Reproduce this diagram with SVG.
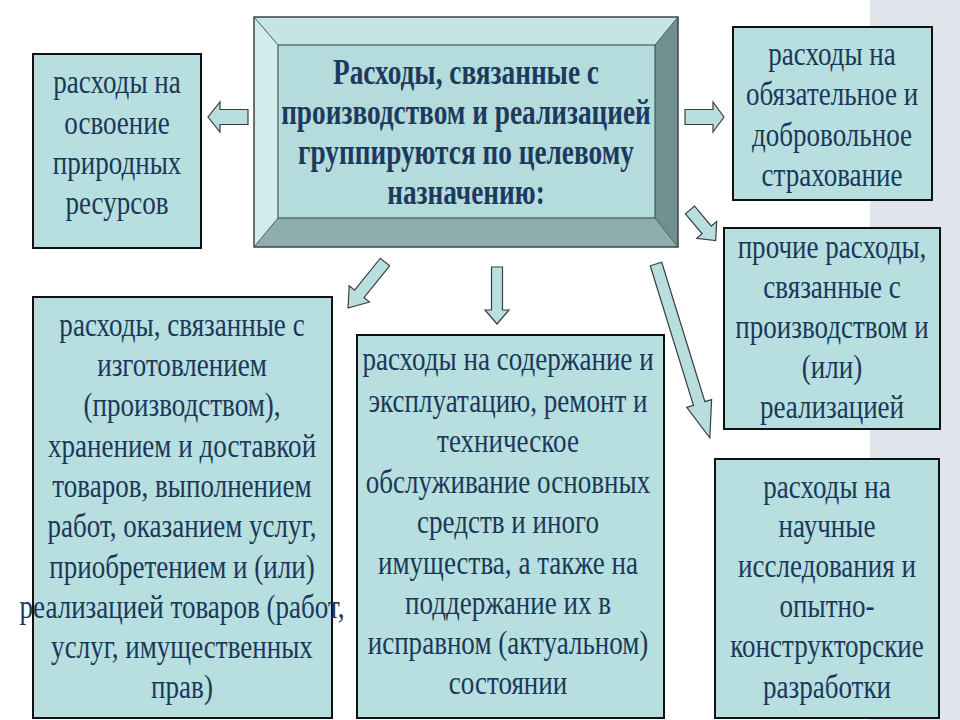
<svg xmlns="http://www.w3.org/2000/svg" width="960" height="720" viewBox="0 0 960 720">
<style>
.box{fill:#b7dfe0;stroke:#111;stroke-width:2}
.t{font-family:"Liberation Serif","Times New Roman",serif;font-size:33px;fill:#1c3858;text-anchor:middle}
.tb{font-family:"Liberation Serif","Times New Roman",serif;font-size:35px;font-weight:bold;fill:#1d3a5c;text-anchor:middle}
.arr{fill:#b9dede;stroke:#3a3f3f;stroke-width:1.2;stroke-linejoin:miter}
</style>
<rect x="0" y="0" width="960" height="720" fill="#ffffff"/>
<rect x="870" y="0" width="90" height="720" fill="#dfe5eb"/>

<g id="center">
<polygon points="254,17 678,17 655,45 278,45" fill="#c6e4e4"/>
<polygon points="254,17 278,45 278,218 254,247" fill="#d3ebeb"/>
<polygon points="678,17 678,247 655,218 655,45" fill="#6f8f90"/>
<polygon points="254,247 278,218 655,218 678,247" fill="#8fadad"/>
<rect x="278" y="45" width="377" height="173" fill="#b5dcdc" stroke="#4a5a5a" stroke-width="1.2"/>
<rect x="254" y="17" width="424" height="230" fill="none" stroke="#3a4646" stroke-width="1.5"/>
<g stroke="#4a5a5a" stroke-width="1"><line x1="254" y1="17" x2="278" y2="45"/><line x1="678" y1="17" x2="655" y2="45"/><line x1="254" y1="247" x2="278" y2="218"/><line x1="678" y1="247" x2="655" y2="218"/></g>
<g transform="translate(466,0) scale(0.78,1)">
<text class="tb" x="0" y="84">Расходы, связанные с</text>
<text class="tb" x="0" y="124">производством и реализацией</text>
<text class="tb" x="0" y="164">группируются по целевому</text>
<text class="tb" x="0" y="204">назначению:</text>
</g>
</g>

<g id="box1">
<rect class="box" x="33" y="54" width="168" height="194"/>
<g transform="translate(117,0) scale(0.82,1)">
<text class="t" x="0" y="93">расходы на</text>
<text class="t" x="0" y="134">освоение</text>
<text class="t" x="0" y="174">природных</text>
<text class="t" x="0" y="214">ресурсов</text>
</g>
</g>

<g id="box2">
<rect class="box" x="733" y="27" width="199" height="173"/>
<g transform="translate(832,0) scale(0.82,1)">
<text class="t" x="0" y="65">расходы на</text>
<text class="t" x="0" y="105">обязательное и</text>
<text class="t" x="0" y="146">добровольное</text>
<text class="t" x="0" y="186">страхование</text>
</g>
</g>

<g id="box3">
<rect class="box" x="724" y="228" width="216" height="201"/>
<g transform="translate(832,0) scale(0.82,1)">
<text class="t" x="0" y="258">прочие расходы,</text>
<text class="t" x="0" y="298">связанные с</text>
<text class="t" x="0" y="338">производством и</text>
<text class="t" x="0" y="378">(или)</text>
<text class="t" x="0" y="418">реализацией</text>
</g>
</g>

<g id="box4">
<rect class="box" x="33" y="297" width="299" height="421"/>
<g transform="translate(182,0) scale(0.82,1)">
<text class="t" x="0" y="336">расходы, связанные с</text>
<text class="t" x="0" y="376">изготовлением</text>
<text class="t" x="0" y="416">(производством),</text>
<text class="t" x="0" y="457">хранением и доставкой</text>
<text class="t" x="0" y="497">товаров, выполнением</text>
<text class="t" x="0" y="537">работ, оказанием услуг,</text>
<text class="t" x="0" y="578">приобретением и (или)</text>
<text class="t" x="0" y="618">реализацией товаров (работ,</text>
<text class="t" x="0" y="658">услуг, имущественных</text>
<text class="t" x="0" y="698">прав)</text>
</g>
</g>

<g id="box5">
<rect class="box" x="357" y="335" width="307" height="383"/>
<g transform="translate(508,0) scale(0.82,1)">
<text class="t" x="0" y="370">расходы на содержание и</text>
<text class="t" x="0" y="412">эксплуатацию, ремонт и</text>
<text class="t" x="0" y="452">техническое</text>
<text class="t" x="0" y="493">обслуживание основных</text>
<text class="t" x="0" y="533">средств и иного</text>
<text class="t" x="0" y="574">имущества, а также на</text>
<text class="t" x="0" y="614">поддержание их в</text>
<text class="t" x="0" y="654">исправном (актуальном)</text>
<text class="t" x="0" y="694">состоянии</text>
</g>
</g>

<g id="box6">
<rect class="box" x="715" y="459" width="224" height="259"/>
<g transform="translate(827,0) scale(0.82,1)">
<text class="t" x="0" y="498">расходы на</text>
<text class="t" x="0" y="537">научные</text>
<text class="t" x="0" y="577">исследования и</text>
<text class="t" x="0" y="617">опытно-</text>
<text class="t" x="0" y="657">конструкторские</text>
<text class="t" x="0" y="698">разработки</text>
</g>
</g>

<g id="connectors">
<path class="arr" transform="translate(248,117) rotate(180)" d="M0,-7.5 L28,-7.5 L28,-15 L40,0 L28,15 L28,7.5 L0,7.5 Z"/>
<path class="arr" transform="translate(685,117)" d="M0,-7.5 L28,-7.5 L28,-15 L39,0 L28,15 L28,7.5 L0,7.5 Z"/>
<path class="arr" transform="translate(385,262) rotate(128.8)" d="M0,-6 L41,-6 L41,-13 L59,0 L41,13 L41,6 L0,6 Z"/>
<path class="arr" transform="translate(497,267) rotate(90)" d="M0,-5.5 L43,-5.5 L43,-12 L57,0 L43,12 L43,5.5 L0,5.5 Z"/>
<path class="arr" transform="translate(690,210) rotate(50)" d="M0,-6 L26,-6 L26,-13 L40,0 L26,13 L26,6 L0,6 Z"/>
<path class="arr" transform="translate(656,264) rotate(72.8)" d="M0,-6 L146,-6 L146,-13 L182,0 L146,13 L146,6 L0,6 Z"/>
</g>
</svg>
